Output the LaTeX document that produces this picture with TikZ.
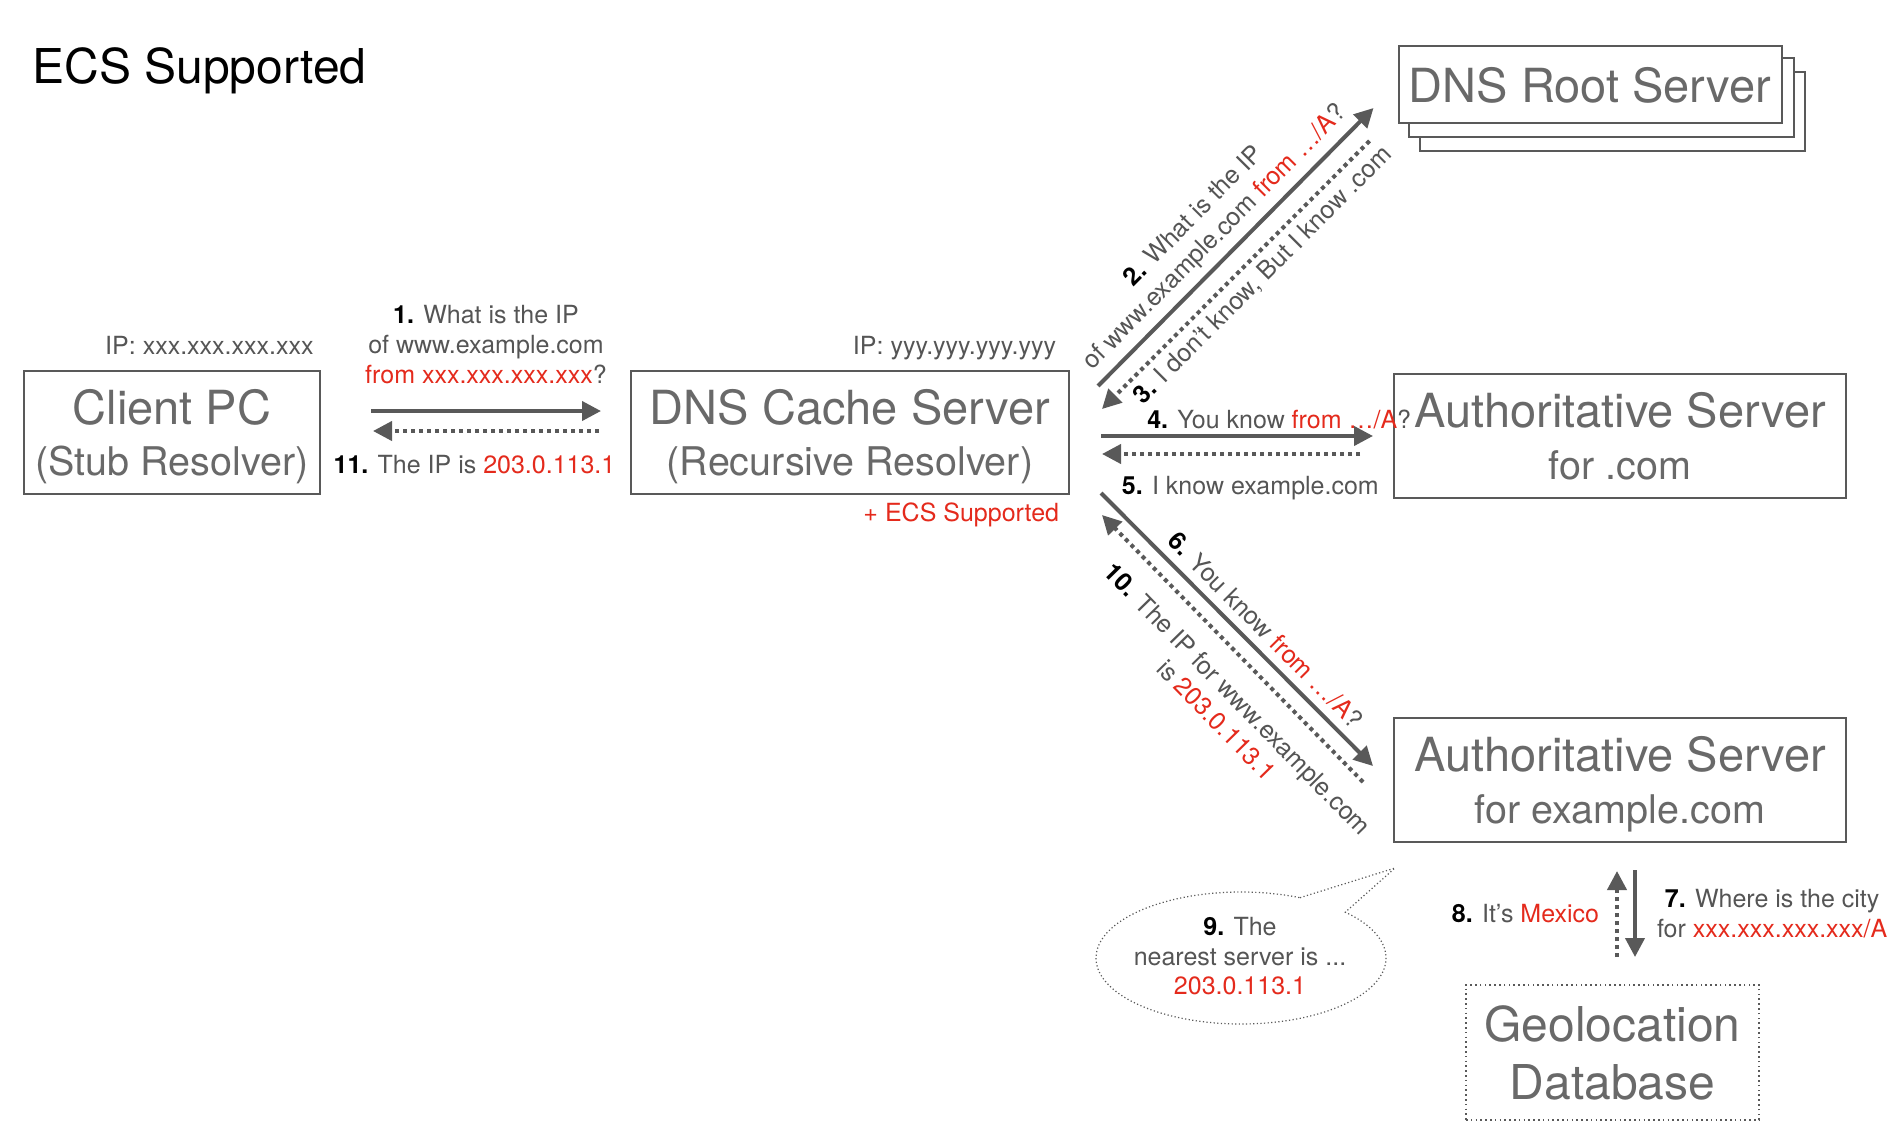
\documentclass[tikz,border=0pt]{standalone}
\usepackage{fontspec}
\setmainfont{TeX Gyre Heros}
\usetikzlibrary{positioning,arrows.meta,backgrounds}

\definecolor{linegray}{RGB}{89,89,89}
\definecolor{labelgray}{RGB}{85,85,85}
\definecolor{boxgray}{RGB}{105,105,105}
\definecolor{ecsred}{RGB}{228,42,28}

\newcommand{\stepno}[1]{{\bfseries\color{black}#1}}
\newcommand{\redtxt}[1]{{\color{ecsred}#1}}
\newcommand{\subline}[1]{{\fontsize{19.75}{24}\selectfont #1}}

\tikzset{
  box/.style={draw=linegray, line width=1pt, fill=white, inner sep=0pt,
    align=center, text=boxgray, text depth=0pt,
    font=\fontsize{23.5}{25.75}\selectfont},
  geobox/.style={box, line width=0.8pt, dash pattern=on 0.8pt off 1.6pt,
    font=\fontsize{24}{29}\selectfont},
  lbl/.style={text=labelgray, inner sep=1pt, align=center,
    font=\fontsize{12.5}{15}\selectfont},
  req/.style={draw=linegray, line width=2pt,
    -{Triangle[length=9.5pt,width=9.5pt]}},
  rep/.style={req, dash pattern=on 2pt off 2pt},
  bubline/.style={draw=linegray, line width=0.6pt, dash pattern=on 0.6pt off 1.2pt},
}

\begin{document}
\begin{tikzpicture}[x=0.5pt,y=-0.5pt]
  \useasboundingbox (0,0) rectangle (1890,1124);
  \node[anchor=base west, inner sep=0pt, font=\fontsize{24}{28}\selectfont] (title) at (32,83) {ECS Supported};

  % servers
  \node[box, minimum width=148pt, minimum height=61.5pt] (client) at (172,432.5) {Client PC\\\subline{(Stub Resolver)}};
  \node[box, minimum width=219pt, minimum height=61.5pt, right=154.5pt of client] (cache) {DNS Cache Server\\\subline{(Recursive Resolver)}};
  \node[box, minimum width=226pt, minimum height=62pt, right=161.5pt of cache, yshift=-1.75pt] (com) {Authoritative Server\\\subline{for .com}};
  \node[box, minimum width=226pt, minimum height=62pt, below=109pt of com] (exa) {Authoritative Server\\\subline{for example.com}};
  \node[geobox, minimum width=146.5pt, minimum height=67.5pt, below=70.5pt of exa, xshift=-3.75pt] (geo) {Geolocation\\Database};
  \node[box, minimum width=191.5pt, minimum height=38.5pt, above=124.5pt of com, xshift=-15pt] (root) {DNS Root Server};
  \begin{scope}[on background layer]
    \draw[box] ([xshift=11pt,yshift=-13.5pt]root.south west) rectangle ([xshift=11pt,yshift=-13.5pt]root.north east);
    \draw[box] ([xshift=5.5pt,yshift=-6.5pt]root.south west) rectangle ([xshift=5.5pt,yshift=-6.5pt]root.north east);
  \end{scope}

  \node[lbl, anchor=base east] (ipc) at ([xshift=-2.5pt,yshift=7.75pt]client.north east) {IP: xxx.xxx.xxx.xxx};
  \node[lbl, anchor=base east] (ipd) at ([xshift=-5.75pt,yshift=7.75pt]cache.north east) {IP: yyy.yyy.yyy.yyy};
  \node[lbl, anchor=base east, text=ecsred] (ecs) at ([xshift=-4.25pt,yshift=-13pt]cache.south east) {+ ECS Supported};

  % client <-> cache
  \draw[req] ([xshift=25pt,yshift=10.75pt]client.east) -- node[lbl, above=11.5pt] {\stepno{1.} What is the IP\\of www.example.com\\\redtxt{from xxx.xxx.xxx.xxx}?} ([xshift=-14.5pt,yshift=10.75pt]cache.west);
  \draw[rep] ([xshift=-15.5pt,yshift=0.75pt]cache.west) -- node[lbl, below=10pt, xshift=-5.75pt] {\stepno{11.} The IP is \redtxt{203.0.113.1}} ([xshift=26pt,yshift=0.75pt]client.east);

  % cache <-> root
  \draw[req] ([xshift=14pt,yshift=-8pt]cache.north east) -- node[lbl, pos=0.48, sloped, above=2.5pt] {\stepno{2.} What is the IP\\of www.example.com \redtxt{from …/A}?} ([xshift=-12pt,yshift=8pt]root.south west);
  \draw[rep] ([xshift=-14pt,yshift=-8.5pt]root.south west) -- node[lbl, pos=0.45, sloped, below=2.5pt] {\stepno{3.} I don’t know, But I know .com} ([xshift=16pt,yshift=-19.5pt]cache.north east);

  % cache <-> com
  \draw[req] ([xshift=15.5pt,yshift=-1.75pt]cache.east) -- node[lbl, pos=0.655, above=1.5pt] {\stepno{4.} You know \redtxt{from …/A}?} ([xshift=-10pt]com.west);
  \draw[rep] ([xshift=-16.5pt,yshift=-9pt]com.west) -- node[lbl, pos=0.425, below=9pt] {\stepno{5.} I know example.com} ([xshift=16pt,yshift=-10.75pt]cache.east);

  % cache <-> example.com
  \draw[req] ([xshift=15.5pt,yshift=1pt]cache.south east) -- node[lbl, pos=0.554, sloped, above=3.3pt] {\stepno{6.} You know \redtxt{from …/A}?} ([xshift=-10pt,yshift=-24.5pt]exa.north west);
  \draw[rep] ([xshift=-15pt,yshift=-32.5pt]exa.north west) -- node[lbl, pos=0.393, sloped, below=9pt] {\stepno{10.} The IP for www.example.com\\is \redtxt{203.0.113.1}} ([xshift=16pt,yshift=-10pt]cache.south east);

  % example.com <-> geolocation
  \draw[req] ([xshift=7.5pt,yshift=-13.5pt]exa.south) -- node[lbl, right=9pt] {\stepno{7.} Where is the city\\for \redtxt{xxx.xxx.xxx.xxx/A}} ([xshift=11.25pt,yshift=13.5pt]geo.north);
  \draw[rep] ([xshift=2.25pt,yshift=13.5pt]geo.north) -- node[lbl, left=7pt] {\stepno{8.} It’s \redtxt{Mexico}} ([xshift=-1.5pt,yshift=-14pt]exa.south);

  % speech bubble
  \coordinate (bc) at (1241,958);
  \coordinate (tail) at ([xshift=1pt,yshift=-12.5pt]exa.south west);
  \node[lbl, font=\fontsize{12.5}{14.75}\selectfont] (bub) at (1240,956.5) {\stepno{9.} The\\nearest server is ...\\\redtxt{203.0.113.1}};
  \draw[bubline] ([shift={(66:72.5pt and 33pt)}]bc) -- (tail) -- ([shift={(44:72.5pt and 33pt)}]bc) arc[start angle=44, end angle=-294, x radius=72.5pt, y radius=33pt];
\end{tikzpicture}
\end{document}
